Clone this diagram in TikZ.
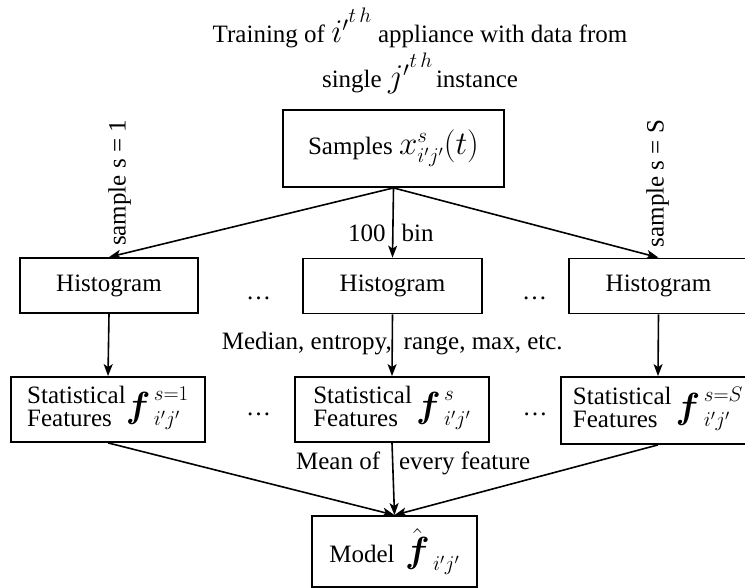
\RequirePackage{fix-cm}
\documentclass[tikz,border=0pt]{standalone}
\usepackage{amsmath}
\usepackage{bm}
\usepackage{graphicx}
\usepackage{fontspec}
\setmainfont{Liberation Serif}
\DeclareMathSizes{25}{33}{21}{15}
\usetikzlibrary{arrows.meta}
\newcommand\bff{\mbox{\scalebox{1.1}{$\boldsymbol{f}$}}}
\newcommand\thsup{\raisebox{5pt}{$\scriptstyle t\,h$}}
\renewcommand\arraystretch{1}
\tikzset{
  box/.style={draw, line width=1.8pt, inner sep=0pt, align=center},
  arr/.style={-{Stealth[length=12pt,width=9pt,inset=3pt]}, line width=1.6pt},
  lab/.style={inner sep=0pt},
}
\begin{document}
\begin{tikzpicture}[x=1pt,y=-1pt,font=\fontsize{25}{23}\selectfont]
\useasboundingbox (0,0) rectangle (745,588);
% title
\node[lab, anchor=base] (t1) at (420,43) {Training of ${i'}^{\thsup}$ appliance with data from};
\node[lab, anchor=base] (t2) at (420,88) {single ${j'}^{\thsup}$\hspace{-3pt} instance};
% boxes
\node[box, minimum width=221pt, minimum height=77pt] (samples) at (393.5,148.5) {Samples $x^{s}_{i'j'}(t)$};
\node[box, minimum width=178pt, minimum height=55pt] (h1) at (109,285.5) {Histogram};
\node[box, minimum width=179pt, minimum height=55pt] (h2) at (392.5,286) {Histogram};
\node[box, minimum width=179pt, minimum height=55pt] (h3) at (658.5,286) {Histogram};
\node[box, minimum width=194pt, minimum height=65pt] (s1) at (108,409.5)
  {\begin{tabular}{@{}l@{}}Statistical\\Features\end{tabular}$\bff^{\,s=1}_{\,i'j'}$};
\node[box, minimum width=194pt, minimum height=65pt] (s2) at (392,409.5)
  {\begin{tabular}{@{}l@{}}Statistical\\Features\end{tabular}\,$\bff^{\,s}_{\,i'j'}$};
\node[box, minimum width=194pt, minimum height=67pt] (s3) at (658,410.5)
  {\begin{tabular}{@{}l@{}}Statistical\\Features\end{tabular}\,$\bff^{\,s=S}_{\,i'j'}$};
\node[box, minimum width=165pt, minimum height=71pt] (model) at (394.5,551.5)
  {Model\, $\hat{\bff}_{\,i'j'}$};
% dots
\node[lab, anchor=base] (d1) at (258.5,300) {\dots};
\node[lab, anchor=base] (d2) at (534.5,300) {\dots};
\node[lab, anchor=base] (d3) at (258.5,415) {\dots};
\node[lab, anchor=base] (d4) at (535,415) {\dots};
% side labels
\node[lab, rotate=90] (l1) at (119.5,183) {sample s = 1};
\node[lab, rotate=90] (l3) at (657.5,183.5) {sample s = S};
% connectors
\draw[arr] (samples.south) -- (h1.north);
\draw[arr] (samples.south) -- node[lab, pos=0.65, xshift=-2pt] {100\hspace{16pt}bin} (h2.north);
\draw[arr] (samples.south) -- (h3.north);
\draw[arr] (h1.south) -- (s1.north);
\draw[arr] (h2.south) -- node[lab, pos=0.48] {Median, entropy,\hspace{12pt}range, max, etc.} (s2.north);
\draw[arr] (h3.south) -- (s3.north);
\draw[arr] (s1.south) -- (model.north);
\draw[arr] (s2.south) -- node[lab, pos=0.28, xshift=20.5pt] {Mean of\hspace{19pt}every feature} (model.north);
\draw[arr] (s3.south) -- (model.north);
\end{tikzpicture}
\end{document}
